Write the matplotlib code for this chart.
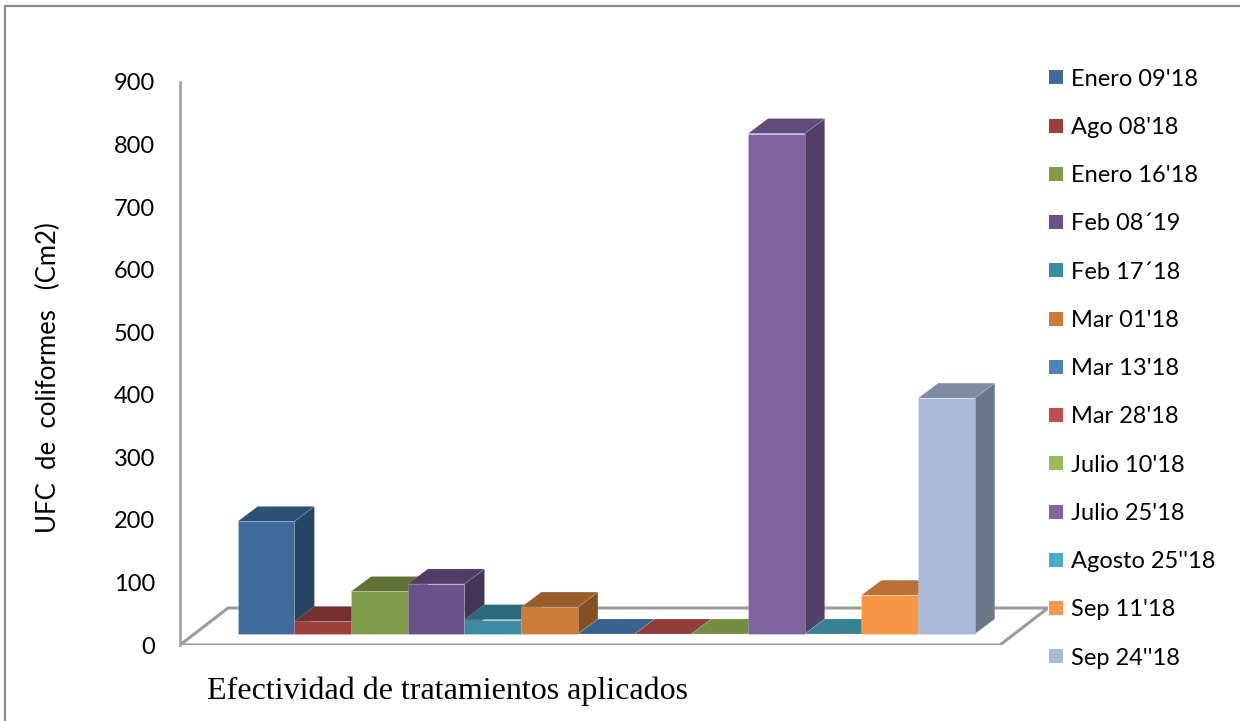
import matplotlib
matplotlib.use("Agg")
import matplotlib.pyplot as plt
from matplotlib.patches import Polygon, Rectangle
from matplotlib.colors import to_rgb

# Data
categories = ["Enero 09'18", "Ago 08'18", "Enero 16'18", "Feb 08\u00b419", "Feb 17\u00b418",
              "Mar 01'18", "Mar 13'18", "Mar 28'18", "Julio 10'18", "Julio 25'18",
              "Agosto 25''18", "Sep 11'18", "Sep 24''18"]
values = [180, 20, 68, 80, 23, 43, 0, 0, 0, 800, 0, 62, 377]
colors = ["#3E6A9C", "#9C3F3D", "#7F9A48", "#6A518A", "#3B8CA2", "#CC7B38", "#4F81BD",
          "#C0504D", "#9BBB59", "#8064A2", "#4BACC6", "#F79646", "#A9B9D6"]
y_ticks = [0, 100, 200, 300, 400, 500, 600, 700, 800, 900]
y_label = "UFC  de  coliformes   (Cm2)"
x_label = "Efectividad de tratamientos aplicados"

FONT = "Lato"
W, H = 1240, 721
fig = plt.figure(figsize=(W / 100, H / 100), dpi=100)

# plot region in pixel units (left, right, top, bottom)
L, R, T, B = 180, 1048, 82, 645
rect = [L / W, (H - B) / H, (R - L) / W, (B - T) / H]

# pseudo-3D geometry (data units of the bar axes)
DX, DY = 0.353, 24.0            # depth of each column
FLOOR_FRONT_Y, FLOOR_BACK_Y = -17.58, 41.56
FLOOR_X = (-1.018, 13.444, -0.171, 14.291)   # front-left, front-right, back-left, back-right


def shade(c, f):
    return tuple(v * f for v in to_rgb(c))


# columns
ax = fig.add_axes(rect)
ax.set_xlim(-1.0176, 14.291)
ax.set_ylim(-17.584, 882.4)
ax.axis("off")

floor = Polygon([(FLOOR_X[0], FLOOR_FRONT_Y), (FLOOR_X[1], FLOOR_FRONT_Y),
                 (FLOOR_X[3], FLOOR_BACK_Y), (FLOOR_X[2], FLOOR_BACK_Y)],
                closed=True, facecolor="white", edgecolor="#9c9c9c", lw=2.2, zorder=1)
ax.add_patch(floor)

for i, (v, c) in enumerate(zip(values, colors)):
    z = 3 + i
    x0, x1 = i, i + 1
    side = Polygon([(x1, 0), (x1 + DX, DY), (x1 + DX, v + DY), (x1, v)], closed=True,
                   facecolor=shade(c, 0.64), edgecolor=(1, 1, 1, 0.2), lw=0.5, zorder=z)
    top = Polygon([(x0, v), (x1, v), (x1 + DX, v + DY), (x0 + DX, v + DY)], closed=True,
                  facecolor=shade(c, 0.75), edgecolor=(1, 1, 1, 0.2), lw=0.5, zorder=z + 0.1)
    ax.add_patch(side)
    ax.add_patch(top)
    ax.bar(x0, v, width=1, align="edge", color=c, edgecolor=(1, 1, 1, 0.25),
           lw=0.5 if v > 0 else 0, zorder=z + 0.2)

# value axis on the front plane
axf = fig.add_axes(rect)
axf.patch.set_alpha(0)
axf.set_ylim(0, 900)
axf.set_xlim(0, 1)
axf.set_yticks(y_ticks)
axf.set_yticklabels([str(t) for t in y_ticks], fontsize=17, fontfamily=FONT)
axf.tick_params(axis="y", length=0, pad=18)
axf.set_xticks([])
for s in ("top", "right", "bottom"):
    axf.spines[s].set_visible(False)
axf.spines["left"].set_color("#a6a6a6")
axf.spines["left"].set_linewidth(2)
axf.set_zorder(0)
ax.set_zorder(1)

fig.text(48 / W, 1 - 378 / H, y_label, rotation=90, ha="center", va="center",
         fontsize=18.5, fontfamily=FONT)
fig.text(207 / W, 1 - 699 / H, x_label, ha="left", va="baseline",
         fontsize=23, fontfamily="Liberation Serif")

# legend
for k, (name, c) in enumerate(zip(categories, colors)):
    yc = 77.3 + 48.25 * k
    fig.add_artist(Rectangle((1049 / W, 1 - (yc + 7) / H), 14 / W, 14 / H,
                             transform=fig.transFigure, facecolor=c, edgecolor="none"))
    fig.text(1071 / W, 1 - (yc + 8.4) / H, name, ha="left", va="baseline",
             fontsize=17, fontfamily=FONT)

# outer frame of the chart area
fig.add_artist(Rectangle((5 / W, -0.05), 1.1, (H - 6) / H + 0.05, transform=fig.transFigure,
                         fill=False, edgecolor="#8c8c8c", lw=1.6))

fig.savefig("out.png", dpi=100)
